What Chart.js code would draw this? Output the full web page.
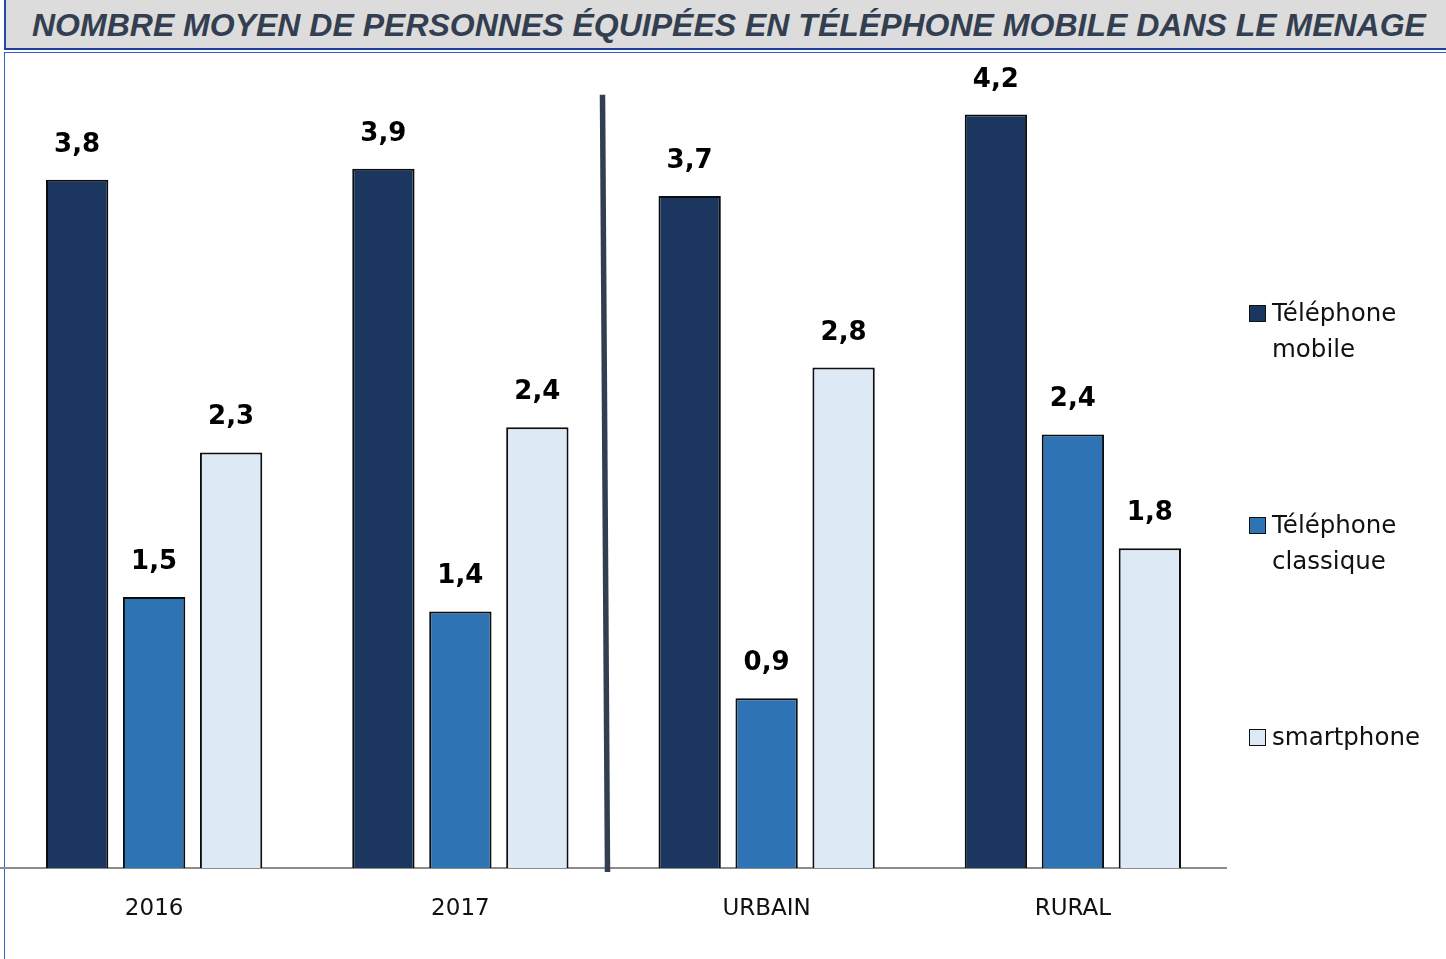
<!DOCTYPE html>
<html>
<head>
<meta charset="utf-8">
<script src="https://cdn.jsdelivr.net/npm/chart.js@4/dist/chart.umd.min.js"></script>
<style>
html, body { margin: 0; padding: 0; background: #fff; }
body { width: 1446px; height: 959px; position: relative; overflow: hidden; font-family: 'DejaVu Sans', sans-serif; }
#title { position: absolute; left: 4px; top: 0; right: 0; height: 48px; background: #dcdcdc;
         border-left: 2px solid #2446a8; border-bottom: 2px solid #1c3f9c; }
#title h1 { margin: 0; position: absolute; left: 26px; top: 7px; line-height: 32px;
            font: italic bold 32px 'Liberation Sans', Arial, sans-serif; color: #333f50; white-space: nowrap; }
#frame { position: absolute; left: 4px; top: 52px; right: 0; bottom: 0;
         border-left: 1.5px solid #3b5fc4; border-top: 1.5px solid #3b5fc4; }
#wrap { position: absolute; left: 0; top: 0; width: 1446px; height: 959px; }
.item { position: absolute; left: 1249px; display: flex; align-items: flex-start; }
.box { width: 15px; height: 15px; border: 1.5px solid #111; margin-top: 10px; margin-right: 6px; flex: none; }
.txt { font-size: 24.5px; line-height: 36px; width: 170px; color: #111; }
</style>
</head>
<body>
<div id="title"><h1>NOMBRE MOYEN DE PERSONNES ÉQUIPÉES EN TÉLÉPHONE MOBILE DANS LE MENAGE</h1></div>
<div id="frame"></div>
<div id="wrap"><canvas id="chart" width="1446" height="959"></canvas></div>
<div id="legend"></div>
<script>
// ─── data ───
const categories = ['2016', '2017', 'URBAIN', 'RURAL'];
const seriesNames = ['Téléphone mobile', 'Téléphone classique', 'smartphone'];
const mobile = [3.81, 3.87, 3.72, 4.17];
const classique = [1.50, 1.42, 0.94, 2.40];
const smartphone = [2.30, 2.44, 2.77, 1.77];
const seriesColors = ['#1b3760', '#2e74b5', '#dde9f5'];

const fmt = v => v.toFixed(1).replace('.', ',');

// value labels above each bar
const valueLabels = {
    id: 'valueLabels',
    afterDatasetsDraw: (chart) => {
        const ctx = chart.ctx;
        ctx.save();
        ctx.font = 'bold 26px "DejaVu Sans"';
        ctx.fillStyle = '#000';
        ctx.textAlign = 'center';
        ctx.textBaseline = 'alphabetic';
        chart.data.datasets.forEach((ds, i) => {
            chart.getDatasetMeta(i).data.forEach((bar, j) => {
                ctx.fillText(fmt(ds.data[j]), bar.x, bar.y - 28);
            });
        });
        ctx.restore();
    }
};

// dark divider between years and urbain/rural
const separator = {
    id: 'separator',
    afterDatasetsDraw: (chart) => {
        const ctx = chart.ctx;
        const xs = chart.scales.x;
        const ys = chart.scales.y;
        const mid = (xs.getPixelForTick(1) + xs.getPixelForTick(2)) / 2;
        ctx.save();
        ctx.strokeStyle = '#333f50';
        ctx.lineWidth = 5.5;
        ctx.beginPath();
        ctx.moveTo(mid - 11, ys.getPixelForValue(4.28));
        ctx.lineTo(mid - 6, ys.bottom + 4);
        ctx.stroke();
        ctx.restore();
    }
};

const ctx = document.getElementById('chart').getContext('2d');
const chart = new Chart(ctx, {
    type: 'bar',
    data: {
        labels: categories,
        datasets: [mobile, classique, smartphone].map((d, i) => ({
            label: seriesNames[i],
            data: d,
            backgroundColor: seriesColors[i],
            borderColor: '#0d0d0d',
            borderWidth: 2,
            categoryPercentage: 0.754,
            barPercentage: 0.81
        }))
    },
    options: {
        responsive: false,
        animation: false,
        layout: { padding: { left: 1, top: 55, right: 220, bottom: 0 } },
        plugins: { legend: { display: false }, tooltip: { enabled: false } },
        scales: {
            x: {
                grid: { display: false, drawTicks: false },
                border: { display: true, color: '#8c8c8c', width: 2 },
                ticks: { font: { family: 'DejaVu Sans', size: 23 }, color: '#111', padding: 27 },
                afterFit: s => { s.height = 91; }
            },
            y: { display: false, min: 0, max: 4.5 }
        }
    },
    plugins: [valueLabels, separator]
});

// legend on the right
const legendEl = document.getElementById('legend');
seriesNames.forEach((name, i) => {
    const item = document.createElement('div');
    item.className = 'item';
    item.style.top = (295 + i * 212) + 'px';
    item.innerHTML = `<span class="box" style="background:${seriesColors[i]}"></span><span class="txt">${name}</span>`;
    legendEl.appendChild(item);
});
</script>
</body>
</html>
